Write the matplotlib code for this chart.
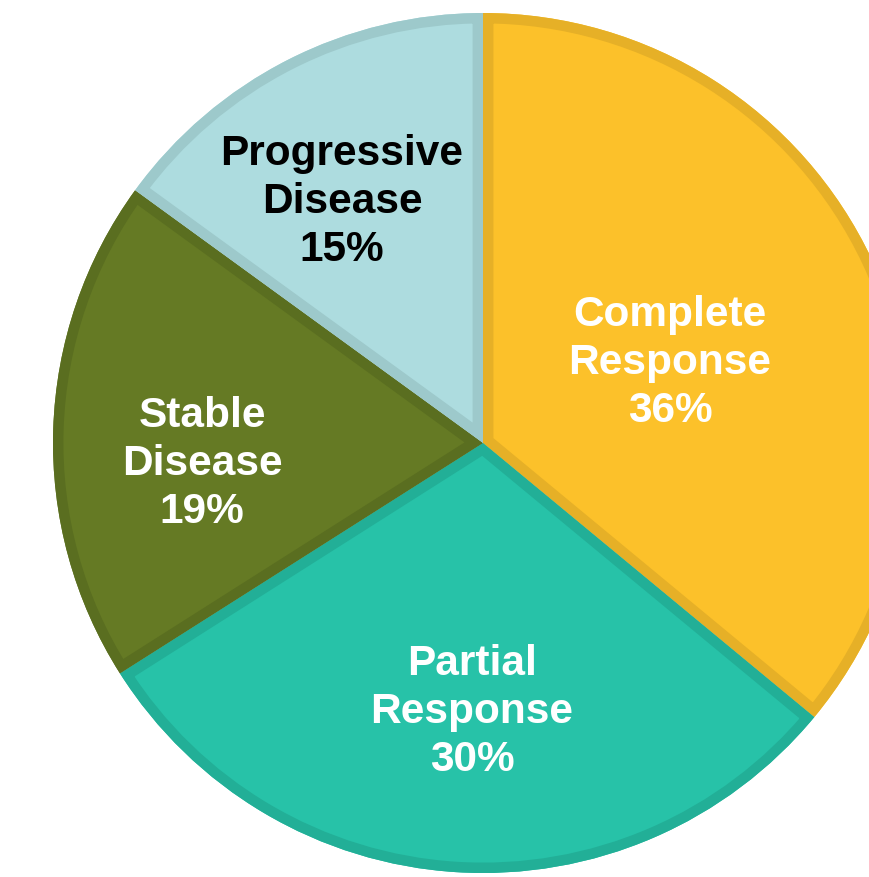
import matplotlib
matplotlib.use("Agg")
import matplotlib.pyplot as plt
from matplotlib.patches import Wedge

categories = ["Complete\nResponse", "Partial\nResponse", "Stable\nDisease", "Progressive\nDisease"]
shares = [36, 30, 19, 15]

fill_colors = ["#FCC12A", "#27C2A8", "#657A24", "#ADDCDF"]
edge_colors = ["#E6B027", "#22AF97", "#5A6E20", "#9DC9CB"]
text_colors = ["white", "white", "white", "black"]
# label anchor points (pixel space, y measured from the top)
label_xy = [(670, 363), (472, 712), (202, 464), (342, 202)]

W, H = 870, 877
fig = plt.figure(figsize=(W / 100, H / 100), dpi=100)
ax = fig.add_axes([0, 0, 1, 1])

cx, cy, r = 483, H - 443, 430
wedges, _ = ax.pie(shares, startangle=90, counterclock=False, radius=r,
                   center=(cx, cy), colors=fill_colors,
                   wedgeprops=dict(linewidth=0))

# darker inner rim on every slice: a thick outline clipped to the slice itself
for w, ec in zip(wedges, edge_colors):
    clip = Wedge(w.center, w.r, w.theta1, w.theta2, transform=ax.transData)
    rim = Wedge(w.center, w.r, w.theta1, w.theta2, facecolor="none",
                edgecolor=ec, linewidth=15, joinstyle="miter")
    ax.add_patch(rim)
    rim.set_clip_path(clip)

for lab, pct, (x, y), tc in zip(categories, shares, label_xy, text_colors):
    ax.text(x, H - y, f"{lab}\n{pct}%", ha="center", va="center",
            fontsize=30.5, fontweight="bold", color=tc,
            family="Liberation Sans", linespacing=1.27)

ax.set_xlim(0, W)
ax.set_ylim(0, H)
ax.set_aspect("equal")
ax.axis("off")
fig.savefig("out.png", dpi=100)
